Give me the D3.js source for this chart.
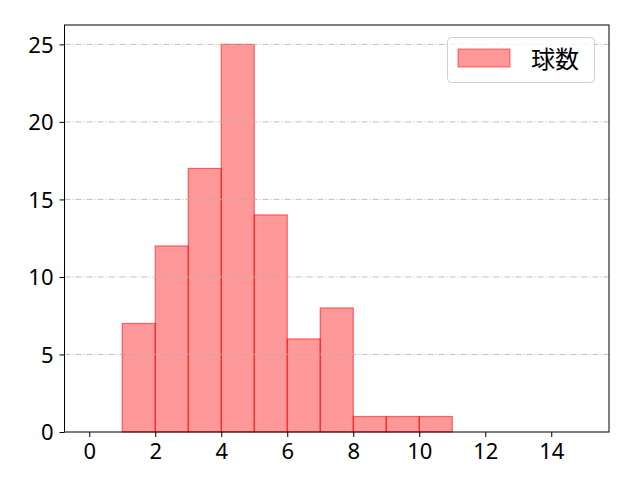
<!DOCTYPE html>
<html>
<head>
<meta charset="UTF-8">
<script src="https://d3js.org/d3.v7.min.js"></script>
<style>
    body { margin: 0; background: #fff; }
    text { font-family: 'Noto Sans CJK JP', 'DejaVu Sans', sans-serif; }
</style>
</head>
<body>
<svg id="chart" width="640" height="480"></svg>
<script>
// histogram bins (left edge) and counts
var binStarts = [1, 2, 3, 4, 5, 6, 7, 8, 9, 10];
var counts = [7, 12, 17, 25, 14, 6, 8, 1, 1, 1];
var xTicks = [0, 2, 4, 6, 8, 10, 12, 14];
var yTicks = [0, 5, 10, 15, 20, 25];
var seriesName = "球数";

var plotLeft = 64.5, plotRight = 609, plotTop = 25, plotBottom = 432;

var svg = d3.select("#chart");

var x = d3.scaleLinear().domain([-0.75, 15.75]).range([plotLeft, plotRight]);
var y = d3.scaleLinear().domain([0, 26.25]).range([plotBottom, plotTop]);

// bars
svg.append("g").selectAll("rect")
    .data(binStarts)
    .enter()
    .append("rect")
    .attr("x", function (d) { return x(d); })
    .attr("y", function (d, i) { return y(counts[i]); })
    .attr("width", function (d) { return x(d + 1) - x(d); })
    .attr("height", function (d, i) { return y(0) - y(counts[i]); })
    .attr("fill", "rgba(255,0,0,0.4)")
    .attr("stroke", "rgba(255,0,0,0.55)")
    .attr("stroke-width", 1.2);

// grid on top
svg.append("g").selectAll("line")
    .data(yTicks.filter(function (d) { return d > 0; }))
    .enter()
    .append("line")
    .attr("x1", plotLeft).attr("x2", plotRight)
    .attr("y1", function (d) { return y(d); })
    .attr("y2", function (d) { return y(d); })
    .attr("stroke", "#b0b0b0")
    .attr("stroke-width", 0.8)
    .attr("stroke-dasharray", "6,2,1,2");

// axes
var xAxis = d3.axisBottom(x).tickValues(xTicks).tickSize(5).tickPadding(5);
var yAxis = d3.axisLeft(y).tickValues(yTicks).tickSize(5).tickPadding(6);

var gx = svg.append("g").attr("transform", "translate(0," + plotBottom + ")").call(xAxis);
var gy = svg.append("g").attr("transform", "translate(" + plotLeft + ",0)").call(yAxis);
[gx, gy].forEach(function (g) {
    g.select(".domain").remove();
    g.selectAll("line").attr("stroke", "#000").attr("stroke-width", 1);
    g.selectAll("text").style("font-size", "22px").attr("fill", "#000")
        .style("font-family", "'Noto Sans', sans-serif");
});
gx.selectAll("text").attr("dy", "0.75em");
gy.selectAll("text").attr("dy", "0.36em");

// frame
svg.append("rect")
    .attr("x", plotLeft).attr("y", plotTop)
    .attr("width", plotRight - plotLeft).attr("height", plotBottom - plotTop)
    .attr("fill", "none").attr("stroke", "#000").attr("stroke-width", 1);

// legend
var lg = svg.append("g");
lg.append("rect")
    .attr("x", 447.5).attr("y", 37.5).attr("width", 147).attr("height", 45)
    .attr("rx", 4)
    .attr("fill", "rgba(255,255,255,0.8)").attr("stroke", "#d0d0d0");
lg.append("rect")
    .attr("x", 458).attr("y", 49).attr("width", 52).attr("height", 18)
    .attr("fill", "rgba(255,0,0,0.4)").attr("stroke", "rgba(255,0,0,0.55)");
lg.append("text")
    .attr("x", 531).attr("y", 68)
    .style("font-size", "24px")
    .text(seriesName);
</script>
</body>
</html>
